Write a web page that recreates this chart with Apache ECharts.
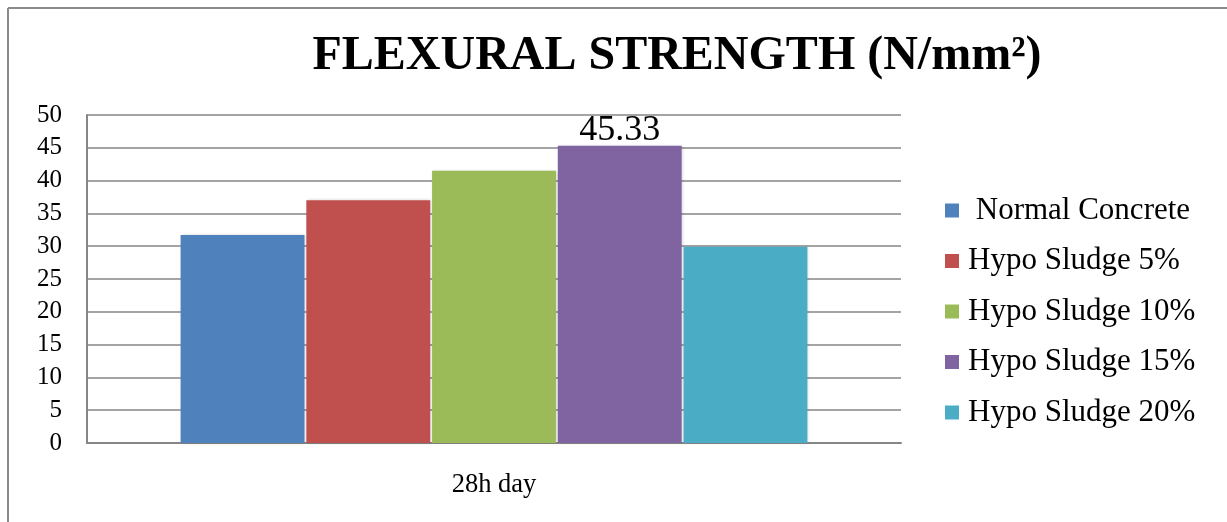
<!DOCTYPE html>
<html>
<head>
<meta charset="utf-8">
<script src="https://cdn.jsdelivr.net/npm/echarts@6/dist/echarts.min.js"></script>
<style>html,body{margin:0;padding:0;background:#fff;}#c{width:1227px;height:522px;}</style>
</head>
<body>
<div id="c"></div>
<script>
const categories = ['28h day'];
const seriesNames = [' Normal Concrete', 'Hypo Sludge 5%', 'Hypo Sludge 10%', 'Hypo Sludge 15%', 'Hypo Sludge 20%'];
const normalConcrete = [31.7];
const hypo5 = [37.0];
const hypo10 = [41.5];
const hypo15 = [45.33];
const hypo20 = [29.9];
const seriesColors = ['#4F81BD', '#C0504D', '#9BBB59', '#8064A2', '#4BACC6'];
const yTicks = [0, 5, 10, 15, 20, 25, 30, 35, 40, 45, 50];

const values = [normalConcrete, hypo5, hypo10, hypo15, hypo20];
const FONT = '"Liberation Serif", "Times New Roman", serif';

const chart = echarts.init(document.getElementById('c'));
chart.setOption({
  animation: false,
  backgroundColor: '#fff',
  title: {
    text: 'FLEXURAL STRENGTH (N/mm²)',
    left: 672, top: 28, textAlign: 'center',
    textStyle: { fontFamily: FONT, fontWeight: 'bold', fontSize: 48, color: '#000' }
  },
  graphic: [
    { type: 'line', shape: { x1: 8, y1: 8, x2: 8, y2: 522 }, style: { stroke: '#8a8a8a', lineWidth: 2 } },
    { type: 'line', shape: { x1: 8, y1: 8, x2: 1227, y2: 8 }, style: { stroke: '#8a8a8a', lineWidth: 2 } }
  ],
  legend: {
    orient: 'vertical', left: 940, top: 190,
    itemWidth: 14, itemHeight: 14, itemGap: 19.5,
    icon: 'rect',
    textStyle: { fontFamily: FONT, fontSize: 31, color: '#000', lineHeight: 31, padding: [0, 0, 0, 4] },
    data: seriesNames
  },
  grid: { left: 87, right: 326, top: 115, bottom: 79 },
  xAxis: {
    type: 'category', data: categories,
    axisLine: { show: true, lineStyle: { color: '#868686', width: 2 } },
    axisTick: { show: false },
    axisLabel: { fontFamily: FONT, fontSize: 26.5, color: '#000', margin: 29 }
  },
  yAxis: {
    type: 'value', min: yTicks[0], max: yTicks[yTicks.length - 1], interval: 5,
    axisLine: { show: true, lineStyle: { color: '#868686', width: 2 } },
    axisTick: { show: false },
    splitLine: { show: true, lineStyle: { color: '#868686', width: 1.5 } },
    axisLabel: { fontFamily: FONT, fontSize: 25, color: '#000', margin: 25 }
  },
  series: seriesNames.map((n, i) => ({
    name: n, type: 'bar', data: values[i],
    barCategoryGap: '23%', barGap: '1.5%',
    itemStyle: { color: seriesColors[i], shadowColor: 'rgba(0,0,0,0.18)', shadowBlur: 3, shadowOffsetX: 1 },
    label: {
      show: i === 3, position: 'top', distance: -3,
      fontFamily: FONT, fontSize: 36, color: '#000',
      formatter: p => p.value.toFixed(2)
    }
  }))
});
</script>
</body>
</html>
